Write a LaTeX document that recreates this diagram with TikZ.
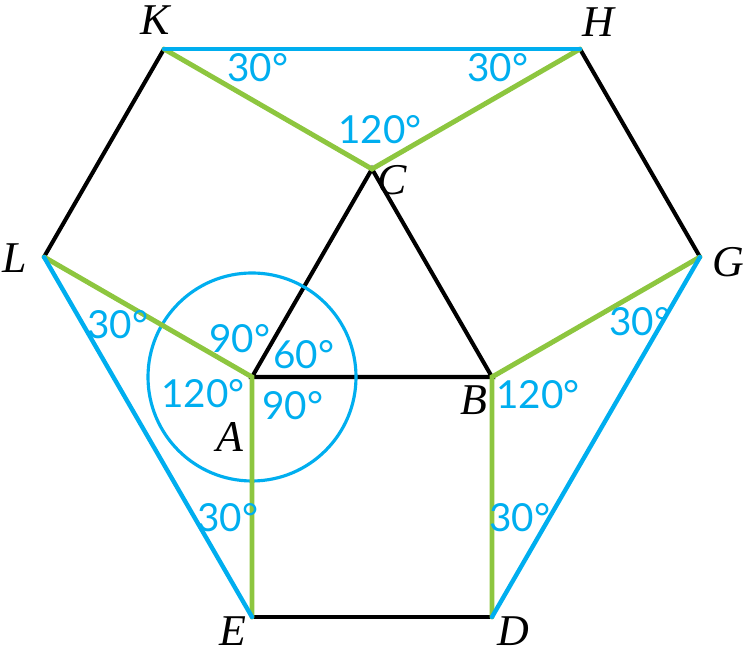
\documentclass[tikz,border=0pt]{standalone}
\usepackage{fontspec}
\setmainfont{Liberation Serif}
\newfontfamily\degfont{Lato}
\definecolor{lblue}{RGB}{0,174,239}
\definecolor{lgreen}{RGB}{141,198,63}
\begin{document}
\begin{tikzpicture}[
  blk/.style={line width=2.3pt,black},
  grn/.style={line width=2.8pt,lgreen,line cap=round},
  blu/.style={line width=2.5pt,lblue,line cap=round},
  pt/.style={font=\fontsize{25}{25}\selectfont\itshape},
  ang/.style={text=lblue,font=\fontsize{22}{22}\selectfont\degfont}]
  \useasboundingbox (0,0) rectangle (15,13.08);
  % vertices
  \coordinate (A) at (5.04,5.54);
  \coordinate (B) at (9.84,5.54);
  \coordinate (C) at (7.44,9.70);
  \coordinate (E) at (5.04,0.74);
  \coordinate (D) at (9.84,0.74);
  \coordinate (L) at (0.88,7.94);
  \coordinate (G) at (14.00,7.94);
  \coordinate (K) at (3.28,12.10);
  \coordinate (H) at (11.60,12.10);
  % black edges
  \draw[blk] (K)--(L);
  \draw[blk] (H)--(G);
  \draw[blk] (A)--(C)--(B)--cycle;
  \draw[blk] (E)--(D);
  \draw[line width=1.8pt,lblue] (A) circle (2.08);
  % green edges
  \draw[grn] (K)--(C)--(H);
  \draw[grn] (L)--(A)--(E);
  \draw[grn] (G)--(B)--(D);
  % blue edges
  \draw[blu] (K)--(H);
  \draw[blu] (L)--(E);
  \draw[blu] (G)--(D);
  % vertex labels
  \node[pt] (lK) at (3.10,12.68) {K};
  \node[pt] (lH) at (11.96,12.64) {H};
  \node[pt] (lC) at (7.84,9.48) {C};
  \node[pt] (lL) at (0.30,7.92) {L};
  \node[pt] (lG) at (14.56,7.84) {G};
  \node[pt] (lA) at (4.60,4.34) {A};
  \node[pt] (lB) at (9.48,5.08) {B};
  \node[pt] (lE) at (4.66,0.46) {E};
  \node[pt] (lD) at (10.26,0.46) {D};
  % angles
  \node[ang] (aK) at (5.16,11.72) {30°};
  \node[ang] (aH) at (9.96,11.72) {30°};
  \node[ang] (aC) at (7.60,10.48) {120°};
  \node[ang] (aL) at (2.36,6.58) {30°};
  \node[ang] (aA1) at (4.80,6.30) {90°};
  \node[ang] (aA2) at (6.08,5.98) {60°};
  \node[ang] (aA3) at (4.06,5.20) {120°};
  \node[ang] (aA4) at (5.86,4.96) {90°};
  \node[ang] (aB) at (10.76,5.18) {120°};
  \node[ang] (aG) at (12.80,6.64) {30°};
  \node[ang] (aE) at (4.56,2.72) {30°};
  \node[ang] (aD) at (10.40,2.72) {30°};
\end{tikzpicture}
\end{document}
